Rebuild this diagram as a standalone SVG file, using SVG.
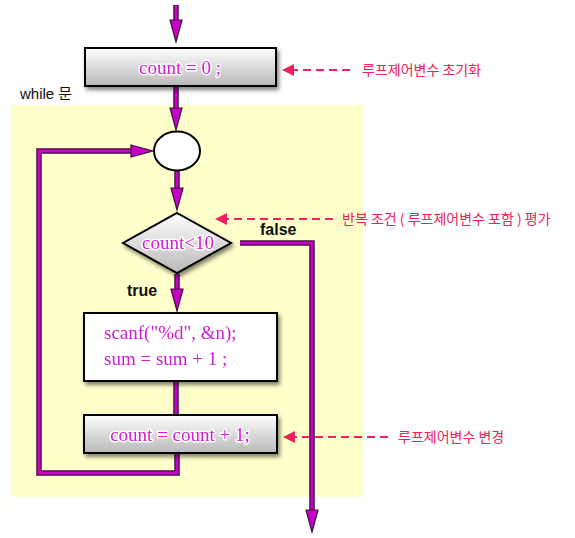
<svg xmlns="http://www.w3.org/2000/svg" width="575" height="538" viewBox="0 0 575 538">
<style>
.code{font-family:"Liberation Serif","Times New Roman",serif;font-size:19px;fill:#d21bd2;stroke:#fff;stroke-width:3;paint-order:stroke fill;stroke-linejoin:round}
.lbl{font-family:"Liberation Sans",Arial,sans-serif;font-size:16px;font-weight:bold;fill:#111}
.note{font-family:"Noto Sans CJK KR",sans-serif;font-size:14px;fill:#f0205a}
.ol{fill:none;stroke:#3a103a;stroke-width:5.5;stroke-linejoin:miter}
.ln{fill:none;stroke:#c800c8;stroke-width:3;stroke-linejoin:miter}
.dash{stroke:#f0205a;stroke-width:1.8;stroke-dasharray:8 5;fill:none}
.box{stroke:#000;stroke-width:2}
</style>
<defs>
<linearGradient id="g" x1="0" y1="0" x2="0" y2="1">
<stop offset="0" stop-color="#ffffff"/>
<stop offset="1" stop-color="#b8b8b8"/>
</linearGradient>
<filter id="sh" x="-10%" y="-20%" width="130%" height="150%">
<feGaussianBlur in="SourceAlpha" stdDeviation="2"/>
<feOffset dx="2" dy="3"/>
<feComponentTransfer><feFuncA type="linear" slope="0.5"/></feComponentTransfer>
<feMerge><feMergeNode/><feMergeNode in="SourceGraphic"/></feMerge>
</filter>
<marker id="ah" markerUnits="userSpaceOnUse" markerWidth="26" markerHeight="16" refX="0" refY="7" orient="auto" viewBox="-1 -1 26 16">
<path d="M0,1 L22,7 L0,13 Z" fill="#c800c8" stroke="#3a103a" stroke-width="1.2"/>
</marker>
<marker id="rh" markerUnits="userSpaceOnUse" markerWidth="14" markerHeight="14" refX="0" refY="6" orient="auto" viewBox="0 0 14 14">
<path d="M0,0 L12,6 L0,12 Z" fill="#f0205a"/>
</marker>
</defs>
<rect x="11" y="105" width="352" height="392" fill="#ffffcc"/>
<text x="20" y="99" font-family="'Liberation Sans','Noto Sans CJK KR',sans-serif" font-size="15" fill="#111">while 문</text>

<g id="connectors">
<path class="ol" d="M176,5 V20"/><path class="ln" d="M176,5 V20" marker-end="url(#ah)"/>
<path class="ol" d="M176,87 V108"/><path class="ln" d="M176,87 V108" marker-end="url(#ah)"/>
<path class="ol" d="M177,171 V188"/><path class="ln" d="M177,171 V188" marker-end="url(#ah)"/>
<path class="ol" d="M177,274 V289"/><path class="ln" d="M177,274 V289" marker-end="url(#ah)"/>
<path class="ol" d="M176,381 V415"/><path class="ln" d="M176,381 V415"/>
<path class="ol" d="M177,453 V473 H39 V151 H131"/><path class="ln" d="M177,453 V473 H39 V151 H131" marker-end="url(#ah)"/>
<path class="ol" d="M240,243 H312 V510"/><path class="ln" d="M240,243 H312 V510" marker-end="url(#ah)"/>
</g>

<g id="init" filter="url(#sh)">
<rect class="box" x="85" y="48" width="191" height="38" fill="url(#g)"/>
<text class="code" x="180" y="74" text-anchor="middle" font-size="20">count = 0 ;</text>
</g>
<g id="merge">
<ellipse cx="177" cy="151" rx="23" ry="19.5" fill="#fff" stroke="#000" stroke-width="2"/>
</g>
<g id="cond" filter="url(#sh)">
<polygon class="box" points="177,213 231,243 177,273 123,243" fill="url(#g)"/>
<text class="code" x="178" y="249" text-anchor="middle" font-size="18.5">count&lt;10</text>
</g>
<g id="body" filter="url(#sh)">
<rect class="box" x="84" y="313" width="193" height="68" fill="#fff"/>
<text class="code" x="104" y="339">scanf("%d", &amp;n);</text>
<text class="code" x="104" y="365">sum = sum + 1 ;</text>
</g>
<g id="incr" filter="url(#sh)">
<rect class="box" x="84" y="415" width="193" height="38" fill="url(#g)"/>
<text class="code" x="180" y="441" text-anchor="middle" font-size="18.7">count = count + 1;</text>
</g>

<text class="lbl" x="260" y="235">false</text>
<text class="lbl" x="127" y="296">true</text>

<g id="notes">
<path class="dash" d="M350,70 H294" marker-end="url(#rh)"/>
<text class="note" x="362" y="75">루프제어변수 초기화</text>
<path class="dash" d="M333,219 H227" marker-end="url(#rh)"/>
<text class="note" x="342" y="224">반복 조건 ( 루프제어변수 포함 ) 평가</text>
<path class="dash" d="M388,437 H295" marker-end="url(#rh)"/>
<text class="note" x="398" y="442">루프제어변수 변경</text>
</g>
</svg>
